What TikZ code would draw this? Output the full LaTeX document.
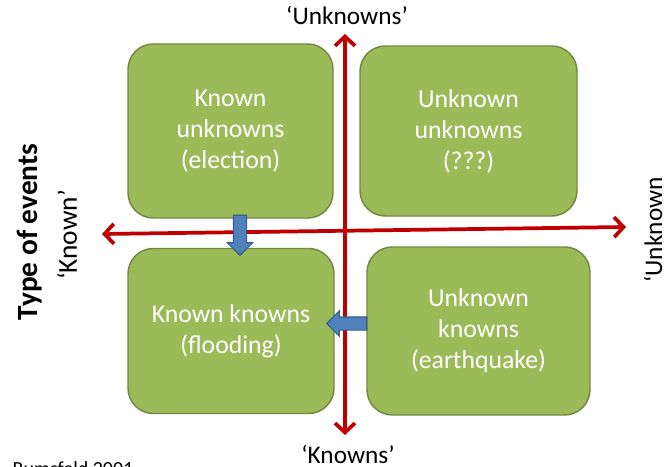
\documentclass[tikz,border=0pt]{standalone}
\usepackage{fontspec}
\setmainfont{Carlito}
\usetikzlibrary{arrows.meta, shapes.arrows}
\definecolor{boxgreen}{HTML}{9BBB59}
\definecolor{boxedge}{HTML}{71893F}
\definecolor{flowblue}{HTML}{4F81BD}
\definecolor{flowedge}{HTML}{385D8A}
\definecolor{axisred}{HTML}{C00000}

\begin{document}
\begin{tikzpicture}[x=0.75pt, y=-0.75pt,
  quad/.style={draw=boxedge, fill=boxgreen, line width=1.1pt, rounded corners=19pt,
    text=white, align=center, font=\fontsize{19.3}{23.3}\selectfont},
  axis/.style={axisred, line width=2.8pt,
    {Straight Barb[length=7pt, width=15pt]}-{Straight Barb[length=7pt, width=15pt]}},
  flow/.style={single arrow, draw=flowedge, fill=flowblue, line width=0.8pt,
    inner sep=4.5pt, minimum height=30pt, single arrow head extend=4.5pt,
    single arrow head indent=0pt},
  lab/.style={font=\fontsize{19}{23}\selectfont}]
  \useasboundingbox (0,0) rectangle (664,467);
  \clip (0,0) rectangle (664,467);
  % quadrants
  \node[quad, minimum width=153.75pt, minimum height=130.5pt] (ku) at (230.5,131) {Known\\unknowns\\(election)};
  \node[quad, minimum width=162.75pt, minimum height=127.5pt] (uu) at (468.5,131) {Unknown\\unknowns\\(???)};
  \node[quad, minimum width=154.5pt, minimum height=123.75pt] (kk) at (231,331) {Known knowns\\(flooding)};
  \node[quad, minimum width=167.25pt, minimum height=126pt] (uk) at (478.5,331) {Unknown\\knowns\\(earthquake)};
  % axes
  \coordinate (ax-l) at (102,234);
  \coordinate (ax-r) at (626,227);
  \coordinate (ax-b) at (345,435);
  \coordinate (ax-t) at (345,34);
  \draw[axis] (ax-l) -- (ax-r);
  \draw[axis] (ax-b) -- (ax-t);
  % moves
  \node[flow, rotate=-90] (down) at (240,232) {};
  \node[flow, rotate=180] (back) at (350,323.5) {};
  % labels
  \node[lab] (top) at (347,15) {‘Unknowns’};
  \node[lab] (bottom) at (348,454) {‘Knowns’};
  \node[lab, font=\fontsize{20.5}{24}\selectfont, rotate=90] (known) at (67,235) {‘Known’};
  \node[font=\bfseries\fontsize{22}{26}\selectfont, rotate=90] (type) at (30,232) {Type of events};
  \node[lab, rotate=90] (unknown) at (653,230) {‘Unknown};
  \node[font=\fontsize{15}{18}\selectfont, anchor=base west] (src) at (8,475) {Rumsfeld 2001};
\end{tikzpicture}
\end{document}
